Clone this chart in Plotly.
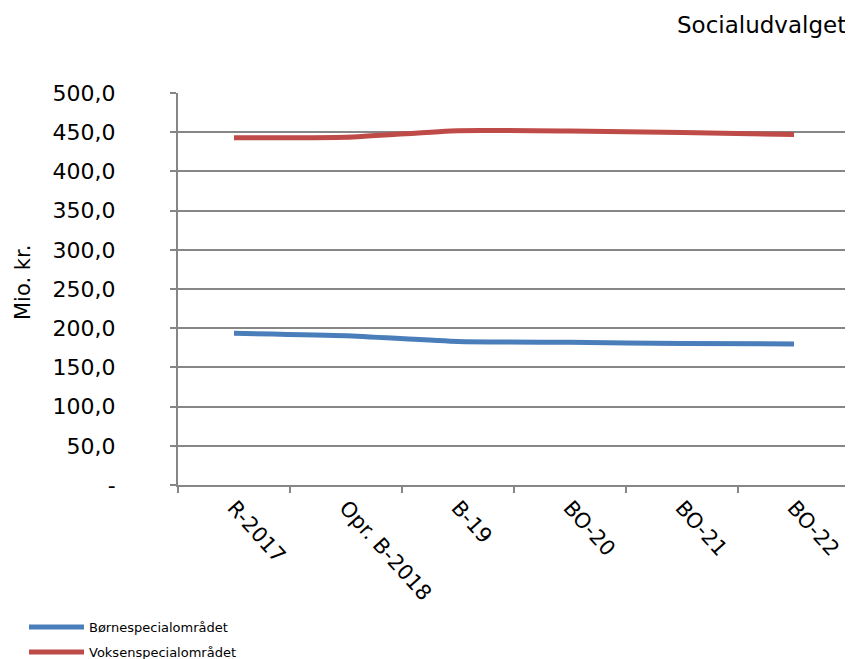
import plotly.graph_objects as go

categories = ["R-2017", "Opr. B-2018", "B-19", "BO-20", "BO-21", "BO-22"]
boerne = [193.5, 190.5, 183.0, 182.0, 180.5, 180.0]
voksen = [443.0, 443.5, 452.0, 451.5, 449.5, 447.0]
y_tickvals = [0, 50, 100, 150, 200, 250, 300, 350, 400, 450, 500]
y_ticktext = ["-", "50,0", "100,0", "150,0", "200,0", "250,0", "300,0", "350,0", "400,0", "450,0", "500,0"]

FONT = "DejaVu Sans"
OFF = 8  # page body margin
W, H = 853 - OFF, 659 - OFF
L, R, T, B = 178 - OFF, 3, 93 - OFF, 659 - 485
PW, PH = W - L - R, H - T - B


def px(xpage):
    return (xpage - OFF - L) / PW


def py(ypage):
    return (H - B - (ypage - OFF)) / PH


fig = go.Figure()
fig.add_trace(go.Scatter(x=categories, y=boerne, mode="lines", name="Børnespecialområdet",
                         line=dict(color="#4A7EBB", width=5, shape="spline", smoothing=0.5),
                         legend="legend"))
fig.add_trace(go.Scatter(x=categories, y=voksen, mode="lines", name="Voksenspecialområdet",
                         line=dict(color="#BE4B48", width=5, shape="spline", smoothing=0.5),
                         legend="legend2"))

leg_common = dict(xanchor="left", yanchor="middle", itemwidth=55,
                  font=dict(size=13, family=FONT), bgcolor="rgba(0,0,0,0)")
fig.update_layout(
    width=W, height=H,
    margin=dict(l=L, r=R, t=T, b=B, autoexpand=False),
    paper_bgcolor="white", plot_bgcolor="white",
    font=dict(family=FONT, color="black"),
    showlegend=True,
    legend=dict(x=px(24), y=py(627), **leg_common),
    legend2=dict(x=px(24), y=py(652), **leg_common),
    annotations=[
        dict(text="Socialudvalget", xref="paper", yref="paper",
             x=px(848), y=py(25), xanchor="right", yanchor="middle",
             showarrow=False, font=dict(size=23, family=FONT)),
        dict(text="Mio. kr.", xref="paper", yref="paper", textangle=-90,
             x=px(23), y=py(283), xanchor="center", yanchor="middle",
             showarrow=False, font=dict(size=21, family=FONT)),
    ],
)
fig.update_xaxes(type="category", range=[-0.5, 5.5], tickangle=48, automargin=False,
                 tickson="boundaries", ticks="outside", ticklen=6, tickcolor="#868686", tickwidth=2,
                 showline=True, linecolor="#868686", linewidth=2, showgrid=False,
                 tickfont=dict(size=21, family=FONT))
fig.update_yaxes(range=[0, 500], tickvals=y_tickvals, ticktext=y_ticktext, automargin=False,
                 ticks="outside", ticklen=6, tickcolor="#868686", tickwidth=2,
                 ticklabelstandoff=50,
                 showline=True, linecolor="#868686", linewidth=2,
                 showgrid=True, gridcolor="#868686", gridwidth=2, zeroline=False,
                 tickfont=dict(size=22, family=FONT))

fig.write_html("out.html")
